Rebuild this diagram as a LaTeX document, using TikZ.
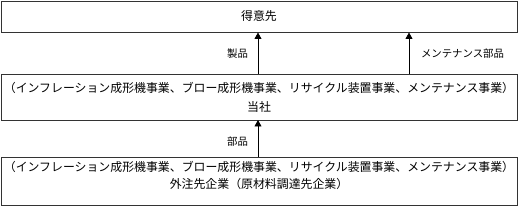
\documentclass[tikz,border=0pt]{standalone}
\usepackage{fontspec}
\newfontfamily\jp{Noto Sans CJK JP}
\usetikzlibrary{arrows.meta}
\begin{document}
\begin{tikzpicture}[x=1pt,y=-1pt,
  box/.style={draw=black!80,line width=0.8pt,inner sep=0pt},
  big/.style={font=\jp\fontsize{11.9}{19}\selectfont,align=center,inner sep=0pt},
  lbl/.style={font=\jp\fontsize{10.4}{12}\selectfont},
  arr/.style={-{Triangle[length=6.5pt,width=7pt]},line width=0.8pt}]
\useasboundingbox (0,0) rectangle (518,208);
\draw[box] (1,1) rectangle (517,32.5);
\node[big] (cust) at (259,16.5) {得意先};
\coordinate (custB1) at (258,32.5);
\coordinate (custB2) at (409,32.5);
\draw[box] (1,74) rectangle (517,120);
\node[big] (co) at (259,97.5) {（インフレーション成形機事業、ブロー成形機事業、リサイクル装置事業、メンテナンス事業）\\当社};
\coordinate (coT1) at (258,74);
\coordinate (coT2) at (409,74);
\coordinate (coB) at (258,120);
\draw[box] (1,157) rectangle (517,205);
\node[big,font=\jp\fontsize{11.9}{17}\selectfont] (sup) at (259,175) {（インフレーション成形機事業、ブロー成形機事業、リサイクル装置事業、メンテナンス事業）\\外注先企業（原材料調達先企業）};
\coordinate (supT) at (258,157);
\draw[arr] (coT1) -- (custB1);
\draw[arr] (coT2) -- (custB2);
\draw[arr] (supT) -- (coB);
\node[lbl] (l1) at (237.5,54) {製品};
\node[lbl] (l2) at (462.5,54) {メンテナンス部品};
\node[lbl] (l3) at (237.5,142) {部品};
\end{tikzpicture}
\end{document}
